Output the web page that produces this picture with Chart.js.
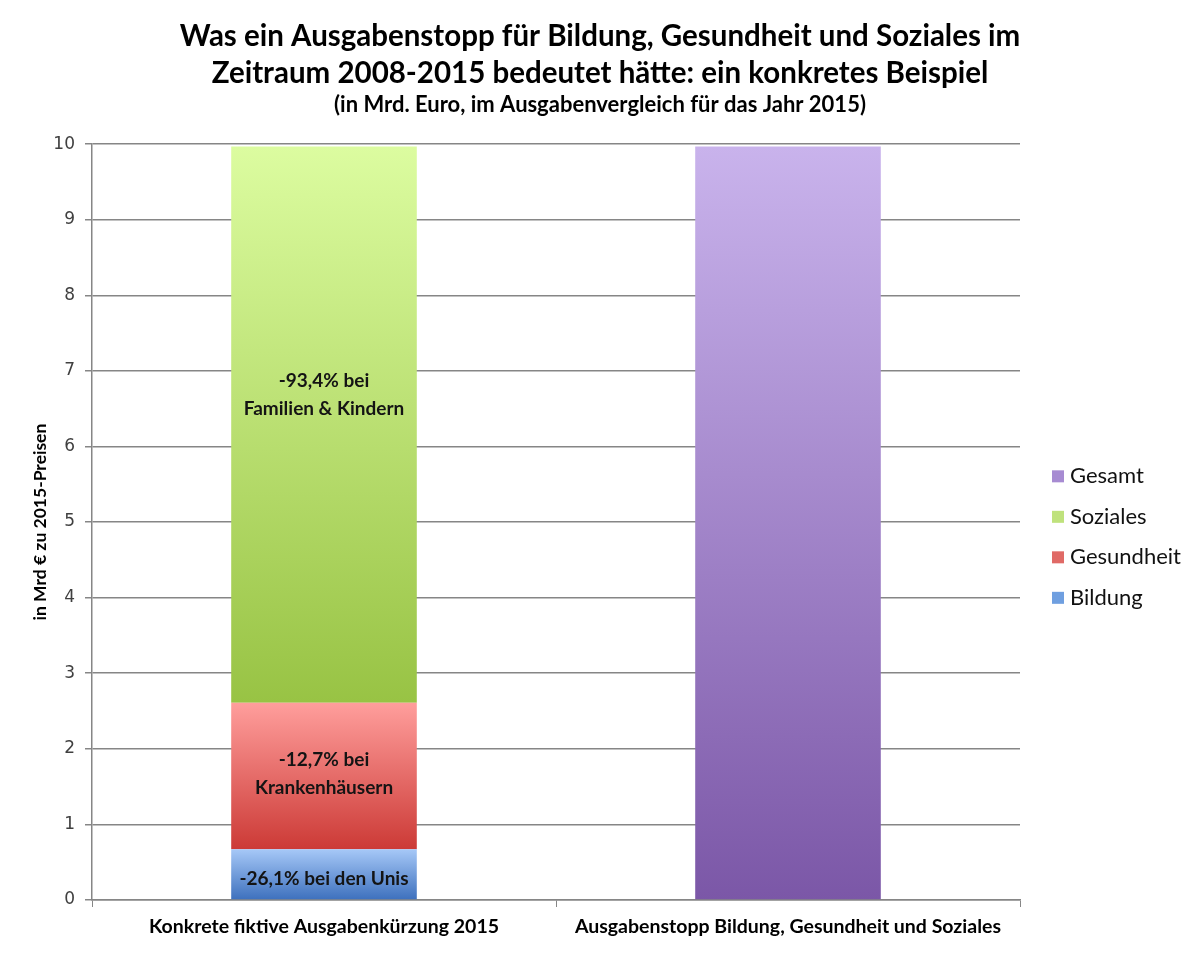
<!DOCTYPE html>
<html>
<head>
<meta charset="utf-8">
<script src="https://cdn.jsdelivr.net/npm/chart.js@4"></script>
<style>
  html, body { margin: 0; padding: 0; background: #fff; }
  #wrap { width: 1200px; height: 953px; }
</style>
</head>
<body>
<div id="wrap"><canvas id="barChart" width="1200" height="953"></canvas></div>
<script>
// Ausgabenstopp: stacked bar vs. total
const categories = ['Konkrete fiktive Ausgabenkürzung 2015', 'Ausgabenstopp Bildung, Gesundheit und Soziales'];
const bildung = [0.67, null];
const gesundheit = [1.94, null];
const soziales = [7.36, null];
const gesamt = [null, 9.97];
const yTicks = [0, 1, 2, 3, 4, 5, 6, 7, 8, 9, 10];

// labels written inside the segments (dataset index -> lines)
const segmentLabels = {
  0: ['-26,1% bei den Unis'],
  1: ['-12,7% bei', 'Krankenhäusern'],
  2: ['-93,4% bei', 'Familien & Kindern']
};
const labelShift = { 0: 5, 1: -2, 2: -30 };

// [top colour, bottom colour]
const gradients = [
  ['#a6c8f7', '#3d70bd'],
  ['#ff9e9c', '#cc3a36'],
  ['#dcfca0', '#98c344'],
  ['#c9b3ec', '#7b57a7']
];
const legendColors = ['#6f9fe0', '#e06a66', '#bfe27c', '#a78bd2'];

const font = 'Lato, "Open Sans", sans-serif';

function barFill(ctx) {
  const chart = ctx.chart;
  const di = ctx.datasetIndex;
  const g = gradients[di];
  if (ctx.type !== 'data' || !chart.chartArea || !chart.scales.y) return g[1];
  const i = ctx.dataIndex;
  const y = chart.scales.y;
  let base = 0;
  for (let j = 0; j < di; j++) base += chart.data.datasets[j].data[i] || 0;
  const v = chart.data.datasets[di].data[i] || 0;
  const top = y.getPixelForValue(base + v);
  const bottom = y.getPixelForValue(base);
  if (!isFinite(top) || !isFinite(bottom) || top === bottom) return g[1];
  const grad = chart.ctx.createLinearGradient(0, top, 0, bottom);
  grad.addColorStop(0, g[0]);
  grad.addColorStop(1, g[1]);
  return grad;
}

const segmentText = {
  id: 'segmentText',
  afterDatasetsDraw(chart) {
    const c = chart.ctx;
    c.save();
    c.font = 'bold 19px ' + font;
    c.fillStyle = '#141414';
    c.textAlign = 'center';
    c.textBaseline = 'middle';
    Object.keys(segmentLabels).forEach(k => {
      const di = Number(k);
      const el = chart.getDatasetMeta(di).data[0];
      if (!el) return;
      const lines = segmentLabels[k];
      const mid = (el.y + el.base) / 2 + labelShift[k];
      const lh = 28;
      lines.forEach((t, n) => {
        c.fillText(t, el.x, mid + (n - (lines.length - 1) / 2) * lh);
      });
    });
    c.restore();
  }
};

// y axis title + legend on the right
const extras = {
  id: 'extras',
  afterDraw(chart) {
    const c = chart.ctx;
    const area = chart.chartArea;
    c.save();
    c.translate(40, (area.top + area.bottom) / 2);
    c.rotate(-Math.PI / 2);
    c.font = 'bold 17.5px ' + font;
    c.fillStyle = '#000';
    c.textAlign = 'center';
    c.textBaseline = 'middle';
    c.fillText('in Mrd € zu 2015-Preisen', 0, 0);
    c.restore();

    const sets = chart.data.datasets;
    const n = sets.length;
    const step = 40.5;
    const cy = (area.top + area.bottom) / 2 + 15;
    c.save();
    c.font = '22px ' + font;
    c.textBaseline = 'middle';
    for (let k = 0; k < n; k++) {
      const di = n - 1 - k;
      const y = cy + (k - (n - 1) / 2) * step;
      c.fillStyle = legendColors[di];
      c.fillRect(area.right + 32, y - 6, 12, 12);
      c.fillStyle = '#111';
      c.fillText(sets[di].label, area.right + 50, y);
    }
    c.restore();
  }
};

const barChart = new Chart(document.getElementById('barChart').getContext('2d'), {
  type: 'bar',
  data: {
    labels: categories,
    datasets: [
      { label: 'Bildung', data: bildung, backgroundColor: barFill },
      { label: 'Gesundheit', data: gesundheit, backgroundColor: barFill },
      { label: 'Soziales', data: soziales, backgroundColor: barFill },
      { label: 'Gesamt', data: gesamt, backgroundColor: barFill }
    ]
  },
  options: {
    responsive: false,
    animation: false,
    barPercentage: 0.4,
    categoryPercentage: 1,
    layout: { padding: { left: 0, right: 0, top: 6, bottom: 0 } },
    plugins: {
      title: {
        display: true,
        text: ['Was ein Ausgabenstopp für Bildung, Gesundheit und Soziales im',
               'Zeitraum 2008-2015 bedeutet hätte: ein konkretes Beispiel'],
        font: { family: font, size: 29.5, weight: 'bold', lineHeight: 1.25 },
        color: '#000',
        padding: { top: 12, bottom: 0 }
      },
      subtitle: {
        display: true,
        text: '(in Mrd. Euro, im Ausgabenvergleich für das Jahr 2015)',
        font: { family: font, size: 22, weight: 'bold' },
        color: '#000',
        padding: { top: 0, bottom: 26 }
      },
      legend: { display: false },
      tooltip: { enabled: false }
    },
    scales: {
      x: {
        stacked: true,
        afterFit(scale) { scale.height = 53; },
        grid: { drawOnChartArea: false, drawTicks: true, tickLength: 7, color: '#868686', offset: true },
        border: { color: '#868686', width: 1.5 },
        ticks: { font: { family: font, size: 19.5, weight: 'bold' }, color: '#000', padding: 8, maxRotation: 0 }
      },
      y: {
        stacked: true,
        min: 0,
        max: 10,
        afterFit(scale) { scale.width = 92; },
        afterBuildTicks(scale) { scale.ticks = yTicks.map(v => ({ value: v })); },
        grid: { color: '#868686', lineWidth: 1.5, tickLength: 7 },
        border: { color: '#868686', width: 1.5 },
        ticks: { font: { family: '"DejaVu Sans", sans-serif', size: 17 }, color: '#404040', padding: 10 }
      },
      // empty right-hand axis, only reserves room for the legend
      legendSpace: {
        type: 'linear',
        position: 'right',
        min: 0,
        max: 10,
        afterFit(scale) { scale.width = 180; },
        grid: { display: false },
        border: { display: false },
        ticks: { display: false }
      }
    }
  },
  plugins: [segmentText, extras]
});
</script>
</body>
</html>
